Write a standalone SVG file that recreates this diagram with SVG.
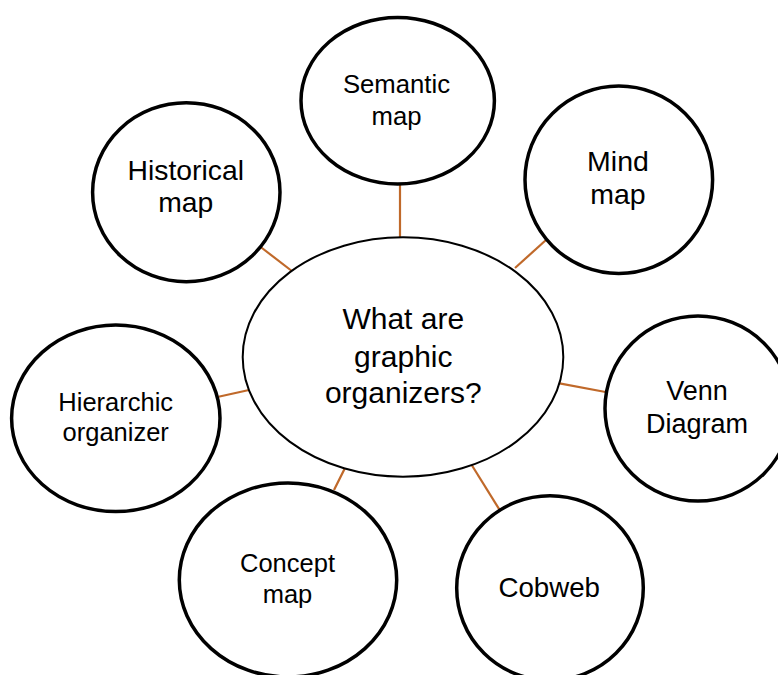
<svg xmlns="http://www.w3.org/2000/svg" width="778" height="675" viewBox="0 0 778 675">
<style>
  .node { fill: #ffffff; stroke: #000000; stroke-width: 3.5; }
  .hub { fill: #ffffff; stroke: #000000; stroke-width: 2; }
  .lbl { font-family: "Liberation Sans", Arial, sans-serif; fill: #000000; text-anchor: middle; }
  .conn line { stroke: #C0692A; stroke-width: 2.2; stroke-linecap: butt; }
</style>
<rect width="778" height="675" fill="#ffffff"/>
<g id="connectors" class="conn">
  <line x1="400" y1="184" x2="400" y2="238"/>
  <line x1="260" y1="246.5" x2="292.5" y2="271.5"/>
  <line x1="546" y1="240" x2="515" y2="268"/>
  <line x1="218.5" y1="396.7" x2="249" y2="390"/>
  <line x1="559.5" y1="383.3" x2="605.5" y2="392"/>
  <line x1="345" y1="468" x2="334" y2="490"/>
  <line x1="471.7" y1="465" x2="499.3" y2="509.3"/>
</g>
<g id="hub">
  <ellipse class="hub" cx="403" cy="357" rx="160.3" ry="119.7"/>
  <text class="lbl" font-size="30" x="403.3" y="329.3">What are</text>
  <text class="lbl" font-size="30" x="403.3" y="366.5">graphic</text>
  <text class="lbl" font-size="30" x="403.3" y="403.3">organizers?</text>
</g>
<g id="semantic">
  <ellipse class="node" cx="397.7" cy="100.7" rx="96.7" ry="83.3"/>
  <text class="lbl" font-size="25.7" x="396.5" y="93.3">Semantic</text>
  <text class="lbl" font-size="25.7" x="396.5" y="125">map</text>
</g>
<g id="historical">
  <ellipse class="node" cx="186.3" cy="192.2" rx="93.7" ry="89.5"/>
  <text class="lbl" font-size="28.3" x="185.8" y="180">Historical</text>
  <text class="lbl" font-size="28.3" x="185.8" y="212.3">map</text>
</g>
<g id="mind">
  <ellipse class="node" cx="618.8" cy="179.7" rx="93.8" ry="93.7"/>
  <text class="lbl" font-size="28.5" x="618" y="170.7">Mind</text>
  <text class="lbl" font-size="28.5" x="618" y="204">map</text>
</g>
<g id="hierarchic">
  <ellipse class="node" cx="115.8" cy="418.3" rx="104.2" ry="93.3"/>
  <text class="lbl" font-size="25.5" x="115.7" y="410.7">Hierarchic</text>
  <text class="lbl" font-size="25.5" x="115.7" y="440.7">organizer</text>
</g>
<g id="venn">
  <ellipse class="node" cx="698" cy="408.5" rx="93" ry="92.5"/>
  <text class="lbl" font-size="27" x="697" y="400">Venn</text>
  <text class="lbl" font-size="27" x="697" y="432.7">Diagram</text>
</g>
<g id="concept">
  <ellipse class="node" cx="288" cy="580" rx="108.7" ry="97"/>
  <text class="lbl" font-size="25.5" x="287.5" y="571.7">Concept</text>
  <text class="lbl" font-size="25.5" x="287.5" y="603">map</text>
</g>
<g id="cobweb">
  <ellipse class="node" cx="550" cy="588" rx="93.3" ry="92.3"/>
  <text class="lbl" font-size="27.7" x="549.2" y="596.7">Cobweb</text>
</g>
</svg>
